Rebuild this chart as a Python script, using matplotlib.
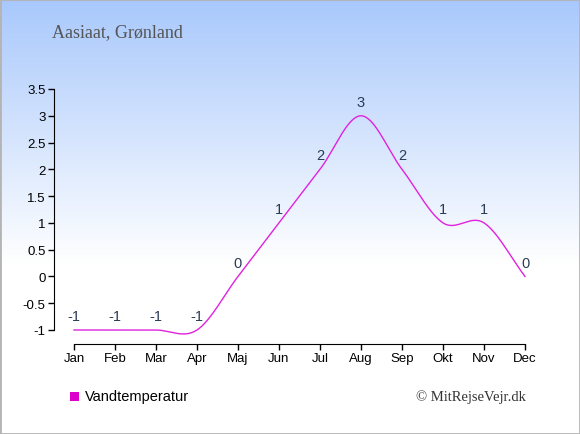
import numpy as np
import matplotlib
matplotlib.use("Agg")
from matplotlib import pyplot as plt
from matplotlib.patches import Rectangle

# data
months = ["Jan", "Feb", "Mar", "Apr", "Maj", "Jun", "Jul", "Aug", "Sep", "Okt", "Nov", "Dec"]
water_temp = [-1, -1, -1, -1, 0, 1, 2, 3, 2, 1, 1, 0]
yticks = [-1, -0.5, 0, 0.5, 1, 1.5, 2, 2.5, 3, 3.5]
ytick_labels = ["-1", "-0.5", "0", "0.5", "1", "1.5", "2", "2.5", "3", "3.5"]
title = "Aasiaat, Grønland"
series_name = "Vandtemperatur"
credit = "© MitRejseVejr.dk"


def smooth_line(xs, ys, n=40):
    # catmull-rom curve through the points, like the original chart line
    xs = np.asarray(xs, float)
    ys = np.asarray(ys, float)
    m = np.zeros_like(ys)
    m[1:-1] = (ys[2:] - ys[:-2]) / 2
    m[0] = ys[1] - ys[0]
    m[-1] = ys[-1] - ys[-2]
    cx, cy = [], []
    for i in range(len(xs) - 1):
        t = np.linspace(0, 1, n)
        h00 = 2 * t**3 - 3 * t**2 + 1
        h10 = t**3 - 2 * t**2 + t
        h01 = -2 * t**3 + 3 * t**2
        h11 = t**3 - t**2
        cy.extend(h00 * ys[i] + h10 * m[i] + h01 * ys[i + 1] + h11 * m[i + 1])
        cx.extend(xs[i] + t * (xs[i + 1] - xs[i]))
    return np.array(cx), np.array(cy)


W, H = 580, 435
fig = plt.figure(figsize=(W / 100, H / 100), dpi=100)

# background gradient
bg = fig.add_axes([0, 0, 1, 1], zorder=-10)
rows = np.arange(H)
frac = np.clip(rows / 265.0, 0, 1)[:, None]
top = np.array([168, 200, 252]) / 255.0
grad = top * (1 - frac) + np.ones(3) * frac
img = np.repeat(grad[:, None, :], 2, axis=1)
bg.imshow(img, aspect="auto", extent=[0, 1, 0, 1], origin="upper")
bg.add_patch(Rectangle((0, 0), 1, 1, transform=bg.transAxes, fill=False,
                       edgecolor="#b4b4b4", linewidth=2))
bg.set_xlim(0, 1)
bg.set_ylim(0, 1)
bg.axis("off")

# plot area in pixels
left_px, right_px = 54, 540
top_px, bottom_px = 90, 331
ax = fig.add_axes([left_px / W, (H - bottom_px) / H,
                   (right_px - left_px) / W, (bottom_px - top_px) / H])
ax.patch.set_alpha(0)

x = np.arange(len(months))
per_unit = (525 - 74) / 11.0
ax.set_xlim(-(74 - left_px) / per_unit, 11 + (right_px - 525) / per_unit)
ax.set_ylim(-1, 3.5)

cx, cy = smooth_line(x, water_temp)
ax.plot(cx, cy, color="#e022dd", linewidth=1.0, clip_on=False)

for xi, v in zip(x, water_temp):
    ax.annotate(str(v), (xi, v), xytext=(0, 10), textcoords="offset points",
                ha="center", va="center", fontsize=10.5, color="#2a3b55",
                family="Liberation Sans")

for s in ["top", "right"]:
    ax.spines[s].set_visible(False)
ax.spines["left"].set_bounds(-1, 3.5)
ax.spines["bottom"].set_bounds(0, 11)
ax.spines["bottom"].set_position(("outward", 10))
ax.set_xticks(x)
ax.set_xticklabels(months)
ax.set_yticks(yticks)
ax.set_yticklabels(ytick_labels)
ax.tick_params(axis="both", length=4, width=1, labelsize=9.5, colors="black", pad=2)
for lbl in ax.get_xticklabels() + ax.get_yticklabels():
    lbl.set_family("Liberation Sans")

fig.text(52 / W, 1 - 33 / H, title, fontsize=13, color="#555555",
         family="Liberation Serif", ha="left", va="center")

fig.patches.append(Rectangle((70 / W, 1 - 402 / H), 9 / W, 9 / H,
                             transform=fig.transFigure, facecolor="#dd00cc",
                             edgecolor="none"))
fig.text(85 / W, 1 - 397.5 / H, series_name, fontsize=10.5, color="black",
         family="Liberation Sans", ha="left", va="center")
fig.text(526 / W, 1 - 397 / H, credit, fontsize=10.5, color="#333333",
         family="Liberation Serif", ha="right", va="center")

fig.savefig("out.png", dpi=100)
